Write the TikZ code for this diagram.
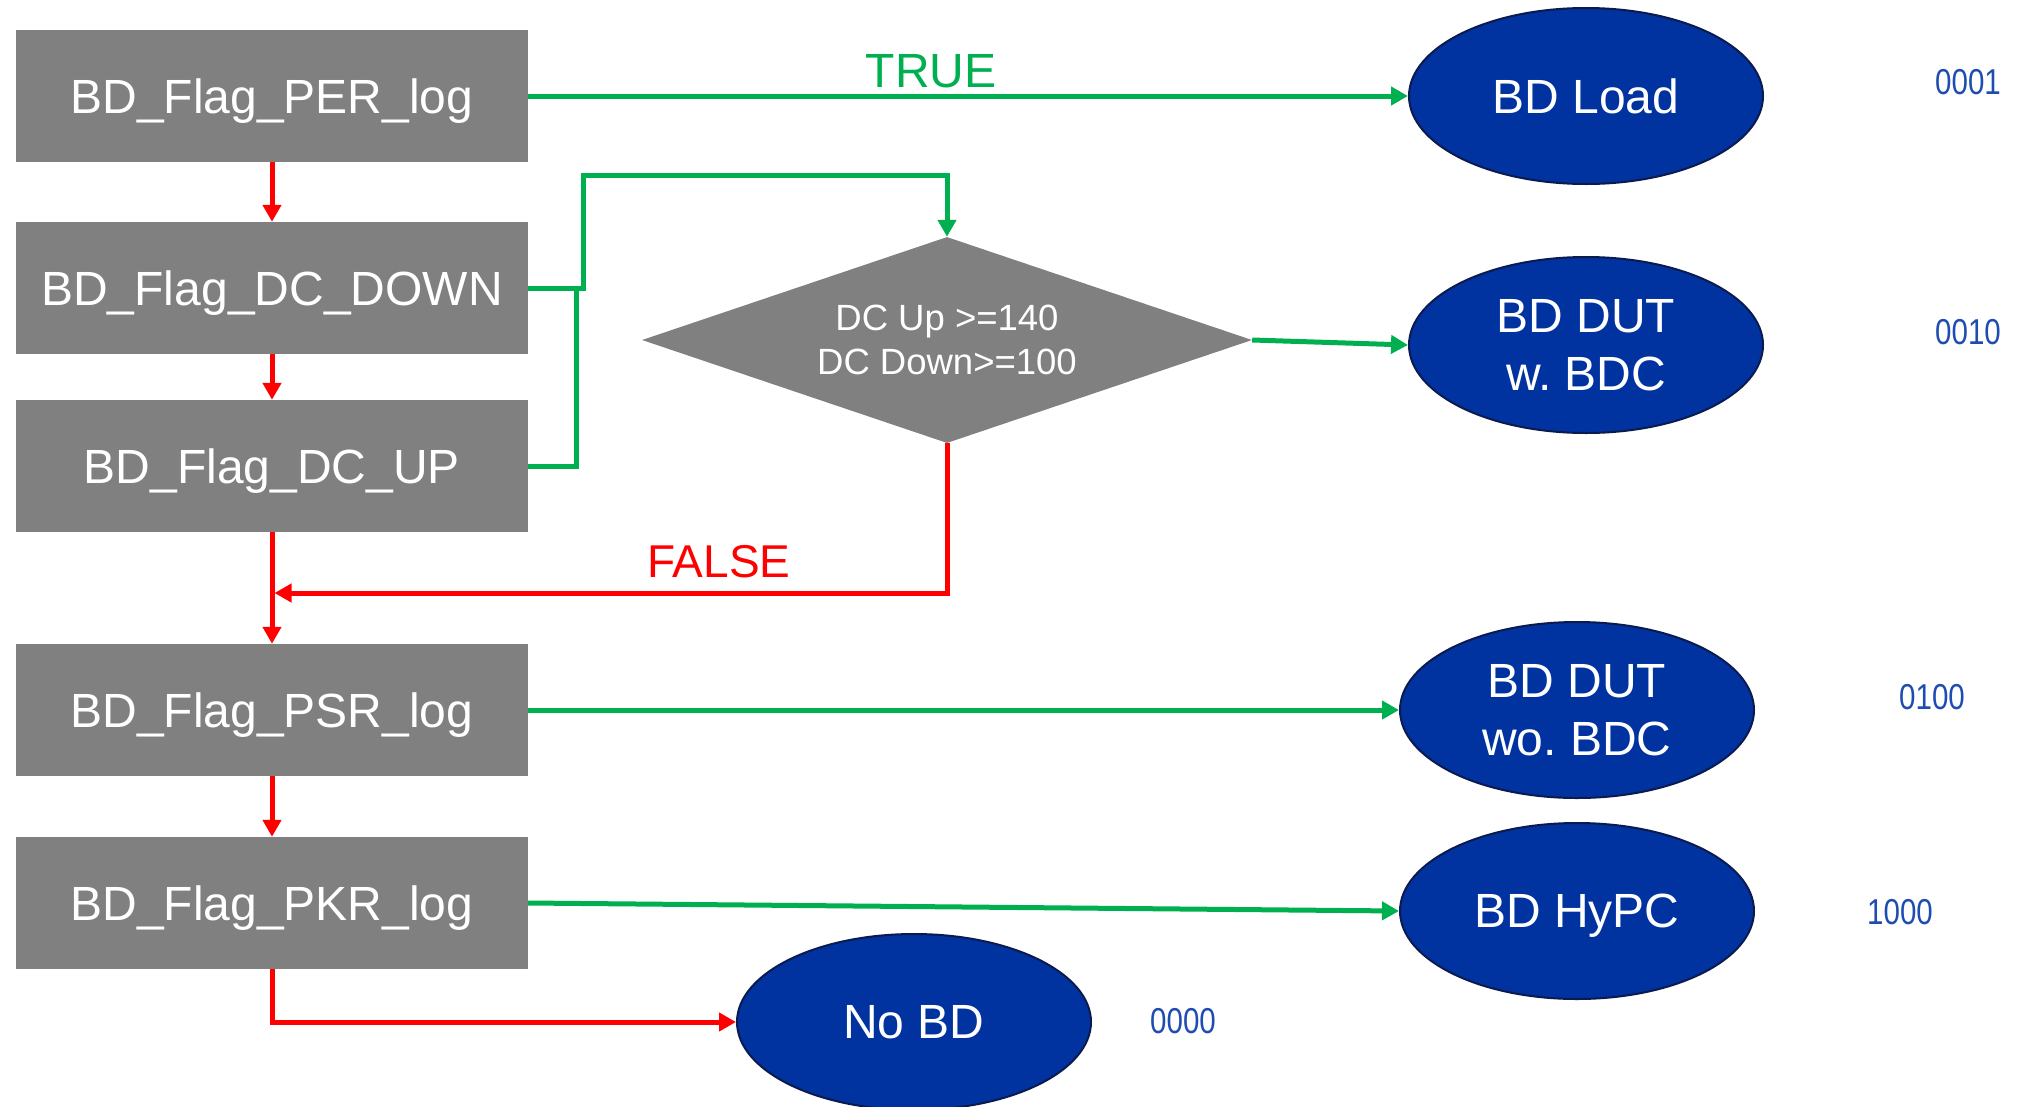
\documentclass[tikz,border=0pt]{standalone}
\usepackage{fontspec}
\setmainfont{Liberation Sans}
\newfontfamily\condfont[FakeStretch=0.82]{Liberation Sans}
\usetikzlibrary{shapes.geometric,arrows.meta}
\definecolor{boxgray}{HTML}{808080}
\definecolor{ellblue}{HTML}{0033A0}
\definecolor{ellborder}{HTML}{0B1A4F}
\definecolor{lgreen}{HTML}{00B050}
\definecolor{lred}{HTML}{FF0000}
\definecolor{codeblue}{HTML}{1F4CB0}
\tikzset{
  flagbox/.style={rectangle, fill=boxgray, text=white, minimum width=512pt, minimum height=132pt, inner sep=0pt, text depth=0pt, font=\fontsize{48}{58}\selectfont},
  endell/.style={ellipse, fill=ellblue, draw=ellborder, line width=2pt, text=white, minimum width=354pt, minimum height=176pt, inner sep=0pt, align=center, font=\frenchspacing\fontsize{48}{58}\selectfont},
  decide/.style={diamond, aspect=2.96, fill=boxgray, text=white, minimum width=610pt, minimum height=206pt, inner sep=0pt, align=center, font=\fontsize{36.5}{44}\selectfont},
  codelbl/.style={text=codeblue, inner sep=0pt, font=\condfont\fontsize{36}{40}\selectfont},
  garrow/.style={draw=lgreen, line width=5pt, -{Triangle[length=17pt,width=18pt]}},
  rarrow/.style={draw=lred, line width=5pt, -{Triangle[length=17pt,width=18pt]}},
  gline/.style={draw=lgreen, line width=5pt},
}
\begin{document}
\begin{tikzpicture}[x=1pt,y=-1pt]
\useasboundingbox (0,0) rectangle (2021,1106);
% boxes
\node[flagbox] (b1) at (272,96) {BD\_Flag\_PER\_log};
\node[flagbox] (b2) at (272,288) {BD\_Flag\_DC\_DOWN};
\node[flagbox] (b3) at (272,466) {BD\_Flag\_DC\_UP};
\node[flagbox] (b4) at (272,710) {BD\_Flag\_PSR\_log};
\node[flagbox] (b5) at (272,903) {BD\_Flag\_PKR\_log};
% diamond
\node[decide] (dia) at (947,340) {DC Up >=140\\DC Down>=100};
% ellipses
\node[endell, text depth=0pt] (load) at (1586,96) {BD Load};
\node[endell] (bdc) at (1586,345) {BD DUT\\w. BDC};
\node[endell] (wobdc) at (1577,710) {BD DUT\\wo. BDC};
\node[endell, text depth=0pt] (hypc) at (1577,911) {BD HyPC};
\node[endell, text depth=0pt] (nobd) at (914,1022) {No BD};
% codes
\node[codelbl] (c1) at (1968,82) {0001};
\node[codelbl] (c2) at (1968,332) {0010};
\node[codelbl] (c3) at (1932,697) {0100};
\node[codelbl] (c4) at (1900,912) {1000};
\node[codelbl] (c5) at (1183,1021) {0000};
% labels
\node[text=lgreen, inner sep=0pt, font=\fontsize{48}{58}\selectfont] (tl) at (931,71) {TRUE};
\node[text=lred, inner sep=0pt, font=\fontsize{46}{56}\selectfont] (fl) at (719,562) {FALSE};
% coordinates
\coordinate (j1a) at (583,288);
\coordinate (j1b) at (583,175);
\coordinate (j2) at (576,288);
\coordinate (fj) at (274.5,593);
% connectors
\draw[garrow] (b1.east) -- (load.west);
\draw[rarrow] (b1.south) -- (b2.north);
\draw[rarrow] (b2.south) -- (b3.north);
\draw[gline] (b3.east) -| (j2);
\draw[garrow] (b2.east) -- (j1a) -- (j1b) -| (dia.north);
\draw[garrow] (dia.east) -- (bdc.west);
\draw[rarrow] (dia.south) |- (fj);
\draw[rarrow] (b3.south) -- (b4.north);
\draw[garrow] (b4.east) -- (wobdc.west);
\draw[rarrow] (b4.south) -- (b5.north);
\draw[garrow] (b5.east) -- (hypc.west);
\draw[rarrow] (b5.south) |- (nobd.west);
\end{tikzpicture}
\end{document}
